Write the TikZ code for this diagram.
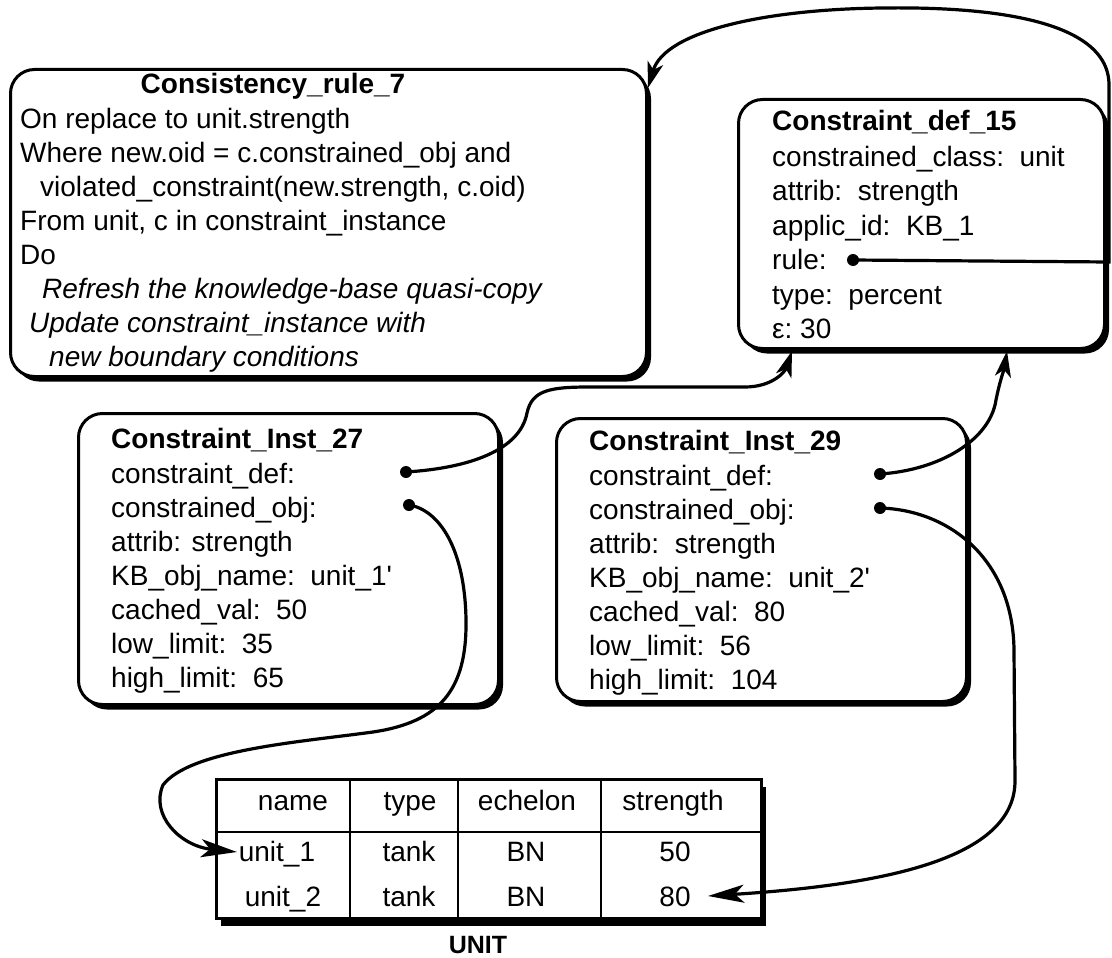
\documentclass[tikz,border=0pt]{standalone}
\usepackage{fontspec}
\setmainfont{Liberation Sans}
\usetikzlibrary{arrows.meta,shadows}
\begin{document}
\begin{tikzpicture}[x=1pt,y=-1pt,
  box/.style={draw, line width=3pt, fill=white, rounded corners=24pt,
    drop shadow={shadow xshift=4.5pt, shadow yshift=-5pt, opacity=1, fill=black},
    anchor=north west, inner sep=0pt},
  txt/.style={font=\fontsize{28}{34}\selectfont, inner sep=0pt, align=left, anchor=north west},
  ttl/.style={font=\fontsize{28}{34}\selectfont\bfseries, inner sep=0pt, anchor=base west},
  cell/.style={font=\fontsize{28}{34}\selectfont, inner sep=0pt, anchor=base},
  dot/.style={circle, fill=black, inner sep=0pt, minimum size=12pt},
  conn/.style={line width=3.2pt},
  tipa/.style={-{Stealth[length=26pt,width=16pt,inset=7pt]}},
  tipb/.style={-{Stealth[length=36pt,width=18pt,inset=9pt]}},
  grid/.style={line width=2.6pt}
]
\useasboundingbox (0,0) rectangle (1112,958);

% ---- Consistency rule box
\node[box, minimum width=636pt, minimum height=307pt] (rulebox) at (9,68) {};
\node[ttl, anchor=base] (ruletitle) at (273,94) {Consistency\_rule\_7};
\node[txt] (ruletext) at (20,104.2) {\strut On replace to unit.strength\\
\strut Where new.oid = c.constrained\_obj and\\
\strut\hspace*{20pt}violated\_constraint(new.strength, c.oid)\\
\strut From unit, c in constraint\_instance\\
\strut Do\\
\strut\hspace*{22pt}\textit{Refresh the knowledge-base quasi-copy}\\
\strut\hspace*{9pt}\textit{Update constraint\_instance with}\\
\strut\hspace*{29pt}\textit{new boundary conditions}};

% ---- Constraint def box
\node[box, minimum width=366pt, minimum height=249pt] (defbox) at (737,98) {};
\node[ttl] (deftitle) at (772,131) {Constraint\_def\_15};
\node[txt, font=\fontsize{28}{34.5}\selectfont] (deftext) at (772,141.7) {\strut constrained\_class:\ \ unit\\
\strut attrib:\ \ strength\\
\strut applic\_id:\ \ KB\_1\\
\strut rule:\\
\strut type:\ \ percent\\
\strut ε:\ 30};

% ---- Constraint inst 27
\node[box, minimum width=420pt, minimum height=291pt] (inst27) at (77,412) {};
\node[ttl] (i27title) at (111,448) {Constraint\_Inst\_27};
\node[txt] (i27text) at (111,459.2) {\strut constraint\_def:\\
\strut constrained\_obj:\\
\strut attrib: strength\\
\strut KB\_obj\_name:\ \ unit\_1\textquotesingle\\
\strut cached\_val:\ \ 50\\
\strut low\_limit:\ \ 35\\
\strut high\_limit:\ \ 65};

% ---- Constraint inst 29
\node[box, minimum width=410pt, minimum height=283pt] (inst29) at (555,417) {};
\node[ttl] (i29title) at (589,450) {Constraint\_Inst\_29};
\node[txt] (i29text) at (589,461.2) {\strut constraint\_def:\\
\strut constrained\_obj:\\
\strut attrib:\ \ strength\\
\strut KB\_obj\_name:\ \ unit\_2\textquotesingle\\
\strut cached\_val:\ \ 80\\
\strut low\_limit:\ \ 56\\
\strut high\_limit:\ \ 104};

% ---- UNIT table
\node[draw, line width=3pt, fill=white, anchor=north west, inner sep=0pt,
  minimum width=545pt, minimum height=139pt,
  drop shadow={shadow xshift=4pt, shadow yshift=-7pt, opacity=1, fill=black}] (table) at (215,778) {};
\draw[grid] (table.west |- 0,832) -- (table.east |- 0,832);
\draw[grid] (350,0 |- table.north) -- (350,0 |- table.south);
\draw[grid] (458,0 |- table.north) -- (458,0 |- table.south);
\draw[grid] (601,0 |- table.north) -- (601,0 |- table.south);
\node[cell] (hname) at (293,810) {name};
\node[cell] (htype) at (410,810) {type};
\node[cell] (hech) at (527,810) {echelon};
\node[cell] (hstr) at (673,810) {strength};
\node[cell] (u1name) at (277,861) {unit\_1};
\node[cell] (u1type) at (409,861) {tank};
\node[cell] (u1ech) at (526,861) {BN};
\node[cell] (u1str) at (675,861) {50};
\node[cell] (u2name) at (283,906) {unit\_2};
\node[cell] (u2type) at (409,906) {tank};
\node[cell] (u2ech) at (526,906) {BN};
\node[cell] (u2str) at (675,906) {80};
\node[font=\fontsize{25}{30}\selectfont\bfseries, inner sep=0pt, anchor=base] (unitlabel) at (478,953) {UNIT};

% ---- dots
\node[dot] (drule) at (853,260) {};
\node[dot] (d27def) at (406,472) {};
\node[dot] (d27obj) at (409,505) {};
\node[dot] (d29def) at (880,474) {};
\node[dot] (d29obj) at (880,508) {};

% ---- connector end points
\coordinate (rA) at (1109,262);
\coordinate (rB) at (1109,85);
\coordinate (rTop) at (883,8);
\coordinate (ruletip) at (648,88);
\coordinate (def27tip) at (792,351);
\coordinate (def29tip) at (1007,351);
\coordinate (unit1tip) at (237,852);
\coordinate (str80tip) at (708,896);

% ---- connectors
\draw[conn, tipa] (drule.center) -- (rA) -- (rB)
  .. controls (1109,12) and (960,7) .. (rTop)
  .. controls (770,9) and (665,30) .. (ruletip);
\draw[conn, tipa] (d27def.center) .. controls (470,468) and (520,450) .. (527,413)
  .. controls (532,390) and (550,387) .. (590,387) -- (745,387)
  .. controls (772,387) and (785,372) .. (def27tip);
\draw[conn, tipa] (d29def.center) .. controls (940,470) and (990,440) .. (996,400)
  .. controls (1000,380) and (1004,370) .. (def29tip);
\draw[conn, tipb] (d27obj.center) .. controls (440,510) and (465,550) .. (466,620)
  .. controls (467,690) and (440,722) .. (373,732)
  .. controls (300,742) and (190,750) .. (163,785)
  .. controls (150,815) and (180,846) .. (unit1tip);
\draw[conn, tipb] (d29obj.center) .. controls (950,510) and (1013,560) .. (1014,650)
  -- (1015,780) .. controls (1016,860) and (880,885) .. (str80tip);
\end{tikzpicture}
\end{document}
